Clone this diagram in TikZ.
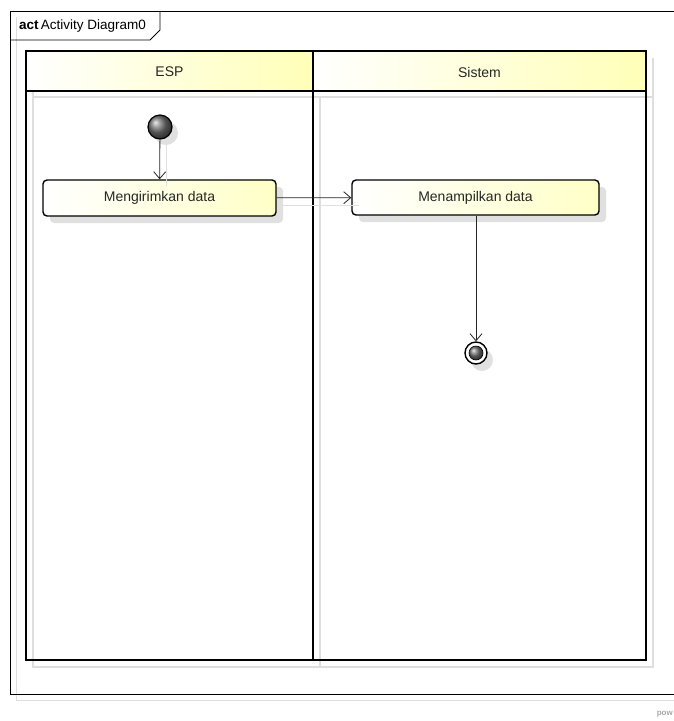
\documentclass[tikz,border=0pt]{standalone}
\usepackage{fontspec}
\setmainfont{Liberation Sans}
\usetikzlibrary{arrows.meta,shadows}
\begin{document}
\begin{tikzpicture}[x=1pt,y=-1pt,
  shadowline/.style={draw=black!13,line width=1.6pt},
  lane/.style={draw=black,line width=1.6pt},
  action/.style={draw=black,line width=1.4pt,rounded corners=4pt,
    left color=white,right color=yellow!22,minimum height=36pt,
    font=\fontsize{14}{16}\selectfont,text=black!85},
  flow/.style={draw=black!85,line width=0.8pt,-{Straight Barb[length=7pt,width=12pt,line width=0.8pt]}},
  lbl/.style={font=\fontsize{14}{16}\selectfont,text=black!85}]
\useasboundingbox (0,0) rectangle (674,721);
% frame shadow and frame
\draw[draw=black!13,line width=1pt] (16,17) -- (16,700) -- (680,700);
\draw[line width=1pt] (680,11) -- (10,11) -- (10,694) -- (680,694);
% tab
\draw[line width=0.8pt] (10,40) -- (150,40) -- (160,30) -- (160,11);
\node[anchor=west,inner sep=0pt,font=\fontsize{13.5}{15}\selectfont] (title) at (19,26) {\textbf{act}\,Activity Diagram0};
% swimlane shadows
\draw[shadowline] (33,58) -- (33,667) -- (653,667) -- (653,58);
\draw[shadowline] (320,98) -- (320,667);
\draw[shadowline] (33,97) -- (653,97);
% header fills
\shade[left color=white,right color=yellow!28] (26,51) rectangle (313,91);
\shade[left color=white,right color=yellow!28] (313,51) rectangle (646,91);
% lanes
\draw[lane] (26,51) rectangle (646,660);
\draw[lane] (26,91) -- (646,91);
\draw[lane] (313,51) -- (313,660);
\node[lbl] (esp) at (169.5,72) {ESP};
\node[lbl] (sis) at (479.5,72) {Sistem};
% start node
\fill[black!12] (166,133) circle (12);
\node[circle,draw=black,line width=1.2pt,minimum size=24pt,inner sep=0pt,ball color=black!55] (start) at (160,127) {};
% actions
\fill[black!12,rounded corners=4pt] (50,187) rectangle (283,223);
\node[action,minimum width=233pt] (a1) at (159.5,198) {Mengirimkan data};
\fill[black!12,rounded corners=4pt] (359,187) rectangle (606,222);
\node[action,minimum width=247pt,minimum height=35pt] (a2) at (475.5,197.5) {Menampilkan data};
% final node
\fill[black!12] (482,360) circle (11);
\node[circle,draw=black,line width=1.4pt,minimum size=22pt,inner sep=0pt,fill=white] (end) at (476,353) {};
\node[circle,minimum size=14pt,inner sep=0pt,ball color=black!55,draw=black,line width=0.6pt] (endin) at (476,353) {};
% flow shadows
\draw[draw=black!12,line width=0.8pt] (166,140) -- (166,186);
\draw[draw=black!12,line width=0.8pt] (283,205) -- (359,205);
% flows
\draw[flow] (start) -- (a1);
\draw[flow] (a1) -- (a2);
\draw[flow] (a2.south -| end) -- (end);
% watermark
\node[anchor=east,inner sep=0pt,font=\fontsize{8}{9}\selectfont\bfseries,text=black!35] (pw) at (673,714) {pow};
\end{tikzpicture}
\end{document}
